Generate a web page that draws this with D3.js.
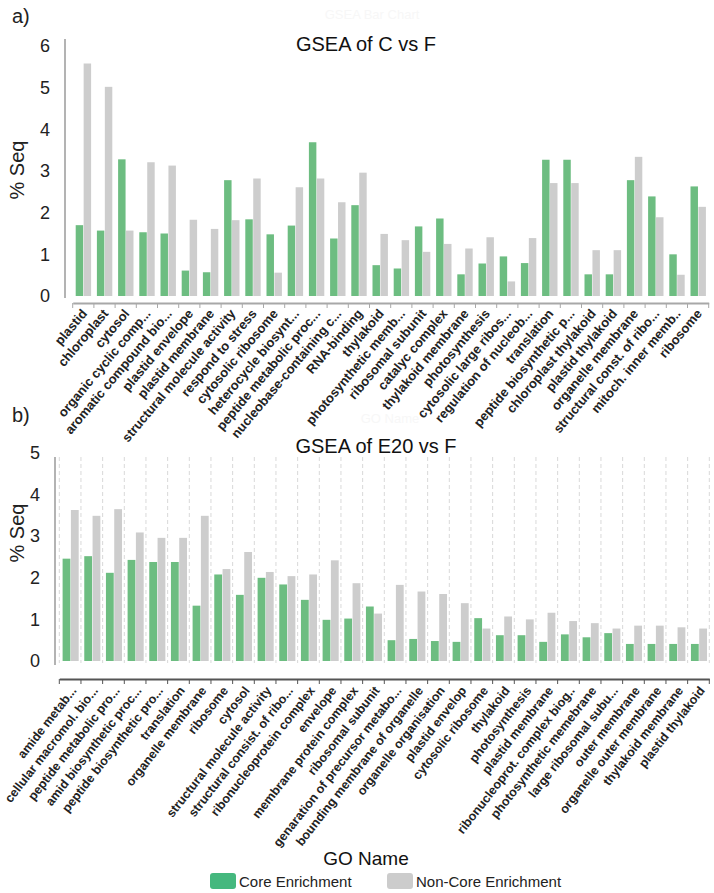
<!DOCTYPE html>
<html>
<head>
<meta charset="utf-8">
<script src="https://cdn.jsdelivr.net/npm/d3@7/dist/d3.min.js"></script>
<style>
  html, body { margin: 0; padding: 0; background: #fff; }
  svg { display: block; font-family: "Liberation Sans", Arial, sans-serif; }
</style>
</head>
<body>
<div id="chart"></div>
<script>
// ---------- DATA ----------
const seriesNames = ["Core Enrichment", "Non-Core Enrichment"];

const categoriesA = ["plastid", "chloroplast", "cytosol", "organic cyclic comp...", "aromatic compound bio...",
  "plastid envelope", "plastid membrane", "structural molecule activity", "respond to stress", "cytosolic ribosome",
  "heterocycle biosynt...", "peptide metabolic proc...", "nucleobase-containing c...", "RNA-binding", "thylakoid",
  "photosynthetic memb...", "ribosomal subunit", "catalyc complex", "thylakoid membrane", "photosynthesis",
  "cytosolic large ribos...", "regulation of nucleob...", "translation", "peptide biosynthetic p...", "chloroplast thylakoid",
  "plastid thylakoid", "organelle membrane", "structural const. of ribo...", "mitoch. inner memb..", "ribosome"];
const coreA = [1.70, 1.57, 3.28, 1.53, 1.50, 0.61, 0.57, 2.78, 1.84, 1.48,
  1.69, 3.69, 1.38, 2.18, 0.74, 0.66, 1.67, 1.86, 0.52, 0.78,
  0.95, 0.79, 3.27, 3.27, 0.52, 0.52, 2.78, 2.39, 1.00, 2.63];
const nonCoreA = [5.58, 5.02, 1.57, 3.21, 3.13, 1.83, 1.61, 1.82, 2.82, 0.56,
  2.61, 2.82, 2.25, 2.96, 1.49, 1.34, 1.06, 1.25, 1.14, 1.41,
  0.35, 1.39, 2.71, 2.71, 1.10, 1.10, 3.34, 1.89, 0.51, 2.14];
const ticksA = [0, 1, 2, 3, 4, 5, 6];

const categoriesB = ["amide metab...", "cellular macromol. bio...", "peptide metabolic pro...", "amid biosynthetic proc...",
  "peptide biosynthetic pro...", "translation", "organelle membrane", "ribosome", "cytosol", "structural molecule activity",
  "structural consist. of ribo...", "ribonucleoprotein complex", "envelope", "membrane protein complex", "ribosomal subunit",
  "genaration of precursor metabo...", "bounding membrane of organelle", "organelle organisation", "plastid envelop",
  "cytosolic ribosome", "thylakoid", "photosynthesis", "plastid membrane", "ribonucleoprot. complex biog..",
  "photosynthetic memebrane", "large ribosomal subu...", "outer membrane", "organelle outer membrane",
  "thylakoid membrane", "plastid thylakoid"];
const coreB = [2.46, 2.52, 2.12, 2.43, 2.38, 2.38, 1.33, 2.08, 1.59, 2.00,
  1.84, 1.47, 0.99, 1.02, 1.31, 0.50, 0.53, 0.48, 0.46, 1.03,
  0.62, 0.62, 0.46, 0.64, 0.57, 0.67, 0.41, 0.41, 0.41, 0.41];
const nonCoreB = [3.63, 3.49, 3.65, 3.09, 2.96, 2.96, 3.49, 2.21, 2.62, 2.14,
  2.04, 2.08, 2.42, 1.87, 1.14, 1.83, 1.67, 1.61, 1.39, 0.78,
  1.07, 1.00, 1.16, 0.96, 0.91, 0.78, 0.85, 0.85, 0.81, 0.78];
const ticksB = [0, 1, 2, 3, 4, 5];

// ---------- STYLE ----------
const W = 714, H = 893;
const barGreen = "#6dbd81", barGray = "#cdcdcd";
const legendGreen = "#45b87e";
const textDark = "#222";

const svg = d3.select("#chart").append("svg").attr("width", W).attr("height", H);

// faint artifacts
svg.append("text").attr("x", 372).attr("y", 19).attr("text-anchor", "middle")
  .attr("font-size", 13).attr("fill", "#f7f7f7").text("GSEA Bar Chart");
svg.append("text").attr("x", 390).attr("y", 423).attr("text-anchor", "middle")
  .attr("font-size", 13).attr("fill", "#f7f7f7").text("GO Name");

function panel(opts) {
  const { cats, core, non, ticks, yMax, x0, x1, y0, yTop, axisX, axisYTop, axisYBot,
    xAxisY, xAxisColor, tickLabelX, label, labelY, title, titleX, titleY,
    seqY, inner, grid, lblFont, lblAngle, lblDx, lblDy } = opts;

  const x = d3.scaleBand().domain(cats).range([x0, x1]).paddingInner(0).paddingOuter(0);
  const xs = d3.scaleBand().domain(seriesNames).range(inner).paddingInner(0.06);
  const y = d3.scaleLinear().domain([0, yMax]).range([y0, yTop]);

  const g = svg.append("g");

  // dashed grid
  if (grid) {
    const bounds = cats.map(c => x(c)).concat([x1]);
    g.selectAll("line.grid").data(bounds).enter().append("line")
      .attr("x1", d => d).attr("x2", d => d)
      .attr("y1", axisYTop).attr("y2", y0 + 2)
      .attr("stroke", "#d9d9d9").attr("stroke-width", 1)
      .attr("stroke-dasharray", "4,3");
  }

  // bars
  const rows = cats.map((c, i) => ({ cat: c, vals: [core[i], non[i]] }));
  const grp = g.selectAll("g.cat").data(rows).enter().append("g")
    .attr("transform", d => `translate(${x(d.cat)},0)`);
  grp.selectAll("rect").data(d => d.vals.map((v, j) => ({ s: seriesNames[j], v })))
    .enter().append("rect")
    .attr("x", d => xs(d.s)).attr("width", xs.bandwidth())
    .attr("y", d => y(d.v)).attr("height", d => y0 - y(d.v))
    .attr("fill", d => d.s === seriesNames[0] ? barGreen : barGray);

  // y axis
  g.append("line").attr("x1", axisX).attr("x2", axisX).attr("y1", axisYTop).attr("y2", axisYBot)
    .attr("stroke", "#9a9a9a").attr("stroke-width", 1.5);
  const yAxis = d3.axisLeft(y).tickValues(ticks).tickSize(0).tickFormat(d3.format("d"));
  const ya = g.append("g").attr("transform", `translate(${tickLabelX},0)`).call(yAxis);
  ya.select(".domain").remove();
  ya.selectAll("text").attr("font-size", 18).attr("fill", textDark)
    .attr("font-family", "'Liberation Sans', Arial, sans-serif");

  // x axis
  const xAxis = d3.axisBottom(x).tickSize(0).tickFormat("");
  const xa = g.append("g").attr("transform", `translate(0,${xAxisY})`).call(xAxis);
  xa.select(".domain").attr("stroke", xAxisColor).attr("stroke-width", 2);
  const bounds = cats.map(c => x(c)).concat([x1]);
  xa.selectAll("line.bt").data(bounds).enter().append("line").attr("class", "bt")
    .attr("x1", d => d).attr("x2", d => d).attr("y1", 0).attr("y2", 5)
    .attr("stroke", xAxisColor).attr("stroke-width", 1);
  g.selectAll("text.xl").data(cats).enter().append("text").attr("class", "xl")
    .attr("transform", d => `translate(${x(d) + x.bandwidth() / 2 + lblDx},${xAxisY + lblDy}) rotate(${lblAngle})`)
    .attr("text-anchor", "end").attr("dy", "0.35em")
    .attr("font-size", lblFont).attr("font-weight", "bold").attr("fill", textDark)
    .text(d => d);

  // panel label, title, y label
  svg.append("text").attr("x", 12).attr("y", labelY).attr("font-size", 20).attr("fill", textDark).text(label);
  svg.append("text").attr("x", titleX).attr("y", titleY).attr("text-anchor", "middle")
    .attr("font-size", 20).attr("fill", "#111").text(title);
  svg.append("text").attr("transform", `translate(24,${seqY}) rotate(-90)`).attr("text-anchor", "middle")
    .attr("font-size", 20).attr("fill", textDark).text("% Seq");
}

panel({
  cats: categoriesA, core: coreA, non: nonCoreA, ticks: ticksA, yMax: 6,
  x0: 72.7, x1: 708.7, y0: 296, yTop: 46, axisX: 65, axisYTop: 39, axisYBot: 298,
  xAxisY: 303, xAxisColor: "#a8a8a8", tickLabelX: 53, label: "a)", labelY: 23,
  title: "GSEA of C vs F", titleX: 366, titleY: 51, seqY: 170,
  inner: [3, 18.4], grid: false, lblFont: 13, lblAngle: -50, lblDx: 1, lblDy: 8
});

panel({
  cats: categoriesB, core: coreB, non: nonCoreB, ticks: ticksB, yMax: 5,
  x0: 59.3, x1: 709.3, y0: 661, yTop: 453, axisX: 55, axisYTop: 457, axisYBot: 665,
  xAxisY: 679, xAxisColor: "#555", tickLabelX: 43, label: "b)", labelY: 422,
  title: "GSEA of E20 vs F", titleX: 376, titleY: 453, seqY: 533,
  inner: [3.3, 19.4], grid: true, lblFont: 12.5, lblAngle: -52, lblDx: 3.5, lblDy: 9
});

// x-axis title
svg.append("text").attr("x", 366).attr("y", 865).attr("text-anchor", "middle")
  .attr("font-size", 19).attr("fill", "#111").text("GO Name");

// legend
const legend = svg.append("g");
const legItems = [
  { name: seriesNames[0], color: legendGreen, x: 210 },
  { name: seriesNames[1], color: "#cccccc", x: 387 }
];
const li = legend.selectAll("g").data(legItems).enter().append("g")
  .attr("transform", d => `translate(${d.x},873)`);
li.append("rect").attr("width", 26).attr("height", 16).attr("rx", 3).attr("fill", d => d.color);
li.append("text").attr("x", 29).attr("y", 14).attr("font-size", 15).attr("fill", textDark).text(d => d.name);
</script>
</body>
</html>
